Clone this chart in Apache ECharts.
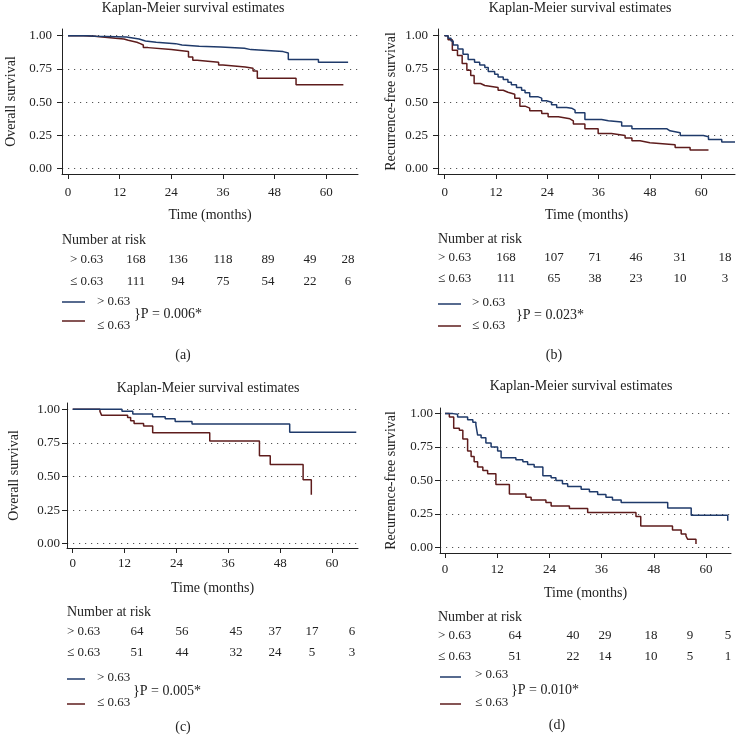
<!DOCTYPE html>
<html><head><meta charset="utf-8">
<script src="https://cdn.jsdelivr.net/npm/echarts@6/dist/echarts.min.js"></script>
<style>html,body{margin:0;padding:0;background:#fff}#c{width:736px;height:742px}</style>
</head><body><div id="c"></div>
<script>
// ---------- data ----------
const xTicks = [0, 12, 24, 36, 48, 60];
const yTicks = [0, 0.25, 0.5, 0.75, 1];
const titleText = 'Kaplan-Meier survival estimates';
const yNames = ['Overall survival', 'Recurrence-free survival', 'Overall survival', 'Recurrence-free survival'];
const xName = 'Time (months)';
const groupLabels = ['> 0.63', '≤ 0.63'];
const pTexts = ['}P = 0.006*', '}P = 0.023*', '}P = 0.005*', '}P = 0.010*'];
const panelLabels = ['(a)', '(b)', '(c)', '(d)'];
const riskTitle = 'Number at risk';

const riskHighA = [168, 136, 118, 89, 49, 28];
const riskLowA  = [111, 94, 75, 54, 22, 6];
const riskHighB = [168, 107, 71, 46, 31, 18];
const riskLowB  = [111, 65, 38, 23, 10, 3];
const riskHighC = [64, 56, 45, 37, 17, 6];
const riskLowC  = [51, 44, 32, 24, 5, 3];
const riskHighD = [64, 40, 29, 18, 9, 5];
const riskLowD  = [51, 22, 14, 10, 5, 1];

// [time (months), survival]
const kmHighA = [[0,1],[4.5,0.995],[6.5,0.99],[13.6,0.975],[16.5,0.96],[18,0.95],[20.5,0.94],[25,0.93],[26.5,0.92],[30.5,0.915],[35.5,0.905],[41,0.895],[42.5,0.88],[50,0.87],[51.2,0.82],[58.2,0.80],[65.1,0.795]];
const kmLowA  = [[0,1],[3.5,0.995],[6.2,0.98],[11,0.975],[13,0.965],[14,0.95],[16,0.94],[16.8,0.93],[17.5,0.91],[18.6,0.895],[24,0.88],[28,0.84],[29,0.815],[30,0.80],[35,0.78],[36,0.765],[41.2,0.755],[43,0.735],[44,0.68],[53,0.63],[64,0.63]];
const kmHighB = [[0,1],[0.8,0.98],[1.5,0.96],[2,0.93],[3.1,0.90],[4.3,0.86],[5.5,0.82],[7,0.80],[8.2,0.78],[9.4,0.76],[10.2,0.73],[11.7,0.71],[12.5,0.69],[13.7,0.67],[14.8,0.65],[15.6,0.63],[16.8,0.61],[18,0.59],[18.8,0.57],[19.9,0.54],[21.9,0.53],[22.7,0.51],[23.8,0.50],[25,0.48],[26.2,0.46],[28.5,0.455],[29.7,0.44],[30.5,0.42],[32.8,0.37],[36.7,0.36],[38.3,0.35],[41.4,0.32],[43.8,0.30],[52,0.285],[52.7,0.27],[55.1,0.25],[60.5,0.24],[61.7,0.22],[64.8,0.20],[67.9,0.195]];
const kmLowB  = [[0,1],[0.8,0.97],[1.8,0.89],[3,0.85],[4.1,0.79],[5.2,0.74],[6.1,0.70],[6.9,0.64],[8.4,0.625],[9.4,0.61],[12.5,0.59],[13.7,0.575],[14.8,0.56],[16.4,0.53],[17.6,0.47],[18.8,0.455],[19.9,0.435],[22.7,0.415],[24.2,0.39],[26.6,0.375],[29.3,0.36],[30.1,0.335],[32.8,0.30],[35.9,0.265],[39,0.25],[42.2,0.23],[43.8,0.21],[45.7,0.195],[48,0.18],[53.9,0.16],[57.4,0.14],[61.7,0.14]];
const kmHighC = [[0,1],[11.4,0.985],[13.9,0.965],[18.5,0.945],[21.4,0.93],[23.7,0.91],[27.6,0.89],[50.2,0.83],[65.6,0.83]];
const kmLowC  = [[0,1],[6.3,0.985],[6.7,0.955],[12.7,0.94],[13.4,0.915],[14.2,0.895],[16.4,0.875],[18.5,0.825],[31.7,0.765],[43.2,0.655],[45.7,0.59],[53.3,0.475],[55.2,0.365]];
const kmHighD = [[0,1],[1.8,0.995],[2.9,0.975],[5.2,0.955],[6.4,0.935],[7.1,0.915],[7.5,0.84],[8.3,0.82],[9.4,0.78],[10.6,0.75],[12.1,0.72],[12.9,0.67],[16.3,0.655],[17.9,0.64],[19,0.62],[20.5,0.60],[22.5,0.535],[24.4,0.52],[25.5,0.50],[27,0.475],[28.2,0.455],[31.3,0.435],[33.2,0.415],[35.1,0.395],[37,0.375],[38.5,0.355],[40.5,0.335],[51.2,0.295],[56.6,0.24],[65,0.20]];
const kmLowD  = [[0,1],[1,0.975],[2,0.89],[3.3,0.875],[4.1,0.81],[5.2,0.72],[6,0.68],[6.7,0.64],[7.5,0.60],[8.7,0.575],[9.8,0.55],[11.7,0.47],[14.8,0.40],[18.6,0.375],[19.8,0.355],[23.2,0.335],[24.4,0.31],[28.6,0.29],[32.8,0.26],[43.9,0.23],[45,0.16],[52.3,0.13],[54.3,0.10],[55.4,0.085],[55.8,0.06],[57.7,0.025]];

// ---------- layout / style ----------
const FONT = '"Liberation Serif", "DejaVu Serif", serif';
const TXT = '#222';
const AXIS = '#222';
const COL_HIGH = '#1f3a6a';
const COL_LOW = '#5e1c1c';

const panels = [
  {grid:{left:62,top:29,width:296,height:145}, x:[-1.4,67.4], y:[-0.04,1.05], ylm:10, xlm:12, yGap:44, xGap:34,
   title:[193,8], risk:{tx:62,ty:240,rx:70,ry:[260,282],cols:[136,178,223,268,310,348]},
   leg:{x1:62,x2:85,ly:[302,321],tx:97,ty:[302,326],px:134,py:314}, lab:[183,355],
   hi:riskHighA, lo:riskLowA, kmH:kmHighA, kmL:kmLowA},
  {grid:{left:438,top:29,width:297,height:145}, x:[-1.55,67.9], y:[-0.04,1.05], ylm:10, xlm:12, yGap:40, xGap:34,
   title:[580,8], risk:{tx:438,ty:239,rx:438,ry:[258,279],cols:[506,554,595,636,680,725]},
   leg:{x1:438,x2:461,ly:[304,326],tx:472,ty:[303,326],px:516,py:315}, lab:[554,355],
   hi:riskHighB, lo:riskLowB, kmH:kmHighB, kmL:kmLowB},
  {grid:{left:67,top:403,width:291,height:145}, x:[-1.32,66.0], y:[-0.032,1.047], ylm:7, xlm:9, yGap:46, xGap:33,
   title:[208,388], risk:{tx:67,ty:612,rx:67,ry:[632,653],cols:[137,182,236,275,312,352]},
   leg:{x1:67,x2:85,ly:[679,704],tx:97,ty:[678,703],px:133,py:691}, lab:[183,727],
   hi:riskHighC, lo:riskLowC, kmH:kmHighC, kmL:kmLowC},
  {grid:{left:440,top:408,width:291,height:145}, x:[-1.15,65.75], y:[-0.042,1.042], ylm:7, xlm:10, yGap:42, xGap:33,
   title:[581,386], risk:{tx:438,ty:617,rx:438,ry:[636,657],cols:[515,573,605,651,690,728]},
   leg:{x1:440,x2:461,ly:[677,704],tx:475,ty:[675,703],px:511,py:690}, lab:[557,725],
   hi:riskHighD, lo:riskLowD, kmH:kmHighD, kmL:kmLowD}
];

function txt(x, y, text, size, align) {
  return {type:'text', x:x, y:y, silent:true,
    style:{text:text, fontFamily:FONT, fontSize:size, fill:TXT, align:align||'left', verticalAlign:'middle'}};
}

const grids = [], xAxes = [], yAxes = [], series = [], graphics = [];
panels.forEach((p, i) => {
  grids.push(Object.assign({}, p.grid));
  xAxes.push({type:'value', gridIndex:i, min:p.x[0], max:p.x[1],
    name:xName, nameLocation:'middle', nameGap:p.xGap,
    nameTextStyle:{fontFamily:FONT, fontSize:14, color:TXT},
    axisLine:{show:true, onZero:false, lineStyle:{color:AXIS, width:1}},
    axisTick:{show:true, inside:false, length:5, customValues:xTicks, lineStyle:{color:AXIS}},
    axisLabel:{customValues:xTicks, margin:p.xlm, fontFamily:FONT, fontSize:13, color:TXT},
    splitLine:{show:false}});
  yAxes.push({type:'value', gridIndex:i, min:p.y[0], max:p.y[1],
    name:yNames[i], nameLocation:'middle', nameGap:p.yGap,
    nameTextStyle:{fontFamily:FONT, fontSize:14, color:TXT},
    axisLine:{show:true, onZero:false, lineStyle:{color:AXIS, width:1}},
    axisTick:{show:true, inside:false, length:5, customValues:yTicks, lineStyle:{color:AXIS}},
    axisLabel:{customValues:yTicks, margin:p.ylm, fontFamily:FONT, fontSize:13, color:TXT,
      formatter:v => v.toFixed(2)},
    splitLine:{show:true, lineStyle:{color:'#555', width:1, type:[1.2,4.8]}}});
  series.push({type:'line', xAxisIndex:i, yAxisIndex:i, step:'end', data:p.kmH, showSymbol:false,
    lineStyle:{color:COL_HIGH, width:1.5}, itemStyle:{color:COL_HIGH}, z:3});
  series.push({type:'line', xAxisIndex:i, yAxisIndex:i, step:'end', data:p.kmL, showSymbol:false,
    lineStyle:{color:COL_LOW, width:1.5}, itemStyle:{color:COL_LOW}, z:2});

  graphics.push(txt(p.title[0], p.title[1], titleText, 14, 'center'));
  const r = p.risk;
  graphics.push(txt(r.tx, r.ty, riskTitle, 14, 'left'));
  graphics.push(txt(r.rx, r.ry[0], groupLabels[0], 13, 'left'));
  graphics.push(txt(r.rx, r.ry[1], groupLabels[1], 13, 'left'));
  p.hi.forEach((v, k) => graphics.push(txt(r.cols[k], r.ry[0], String(v), 13, 'center')));
  p.lo.forEach((v, k) => graphics.push(txt(r.cols[k], r.ry[1], String(v), 13, 'center')));
  const L = p.leg;
  graphics.push({type:'line', silent:true, shape:{x1:L.x1, y1:L.ly[0], x2:L.x2, y2:L.ly[0]}, style:{stroke:COL_HIGH, lineWidth:1.5}});
  graphics.push({type:'line', silent:true, shape:{x1:L.x1, y1:L.ly[1], x2:L.x2, y2:L.ly[1]}, style:{stroke:COL_LOW, lineWidth:1.5}});
  graphics.push(txt(L.tx, L.ty[0], groupLabels[0], 13, 'left'));
  graphics.push(txt(L.tx, L.ty[1], groupLabels[1], 13, 'left'));
  graphics.push(txt(L.px, L.py, pTexts[i], 14, 'left'));
  graphics.push(txt(p.lab[0], p.lab[1], panelLabels[i], 14, 'center'));
});

const chart = echarts.init(document.getElementById('c'), null, {renderer:'canvas'});
chart.setOption({
  animation:false, backgroundColor:'#fff',
  grid:grids, xAxis:xAxes, yAxis:yAxes, series:series, graphic:graphics
});
</script></body></html>
